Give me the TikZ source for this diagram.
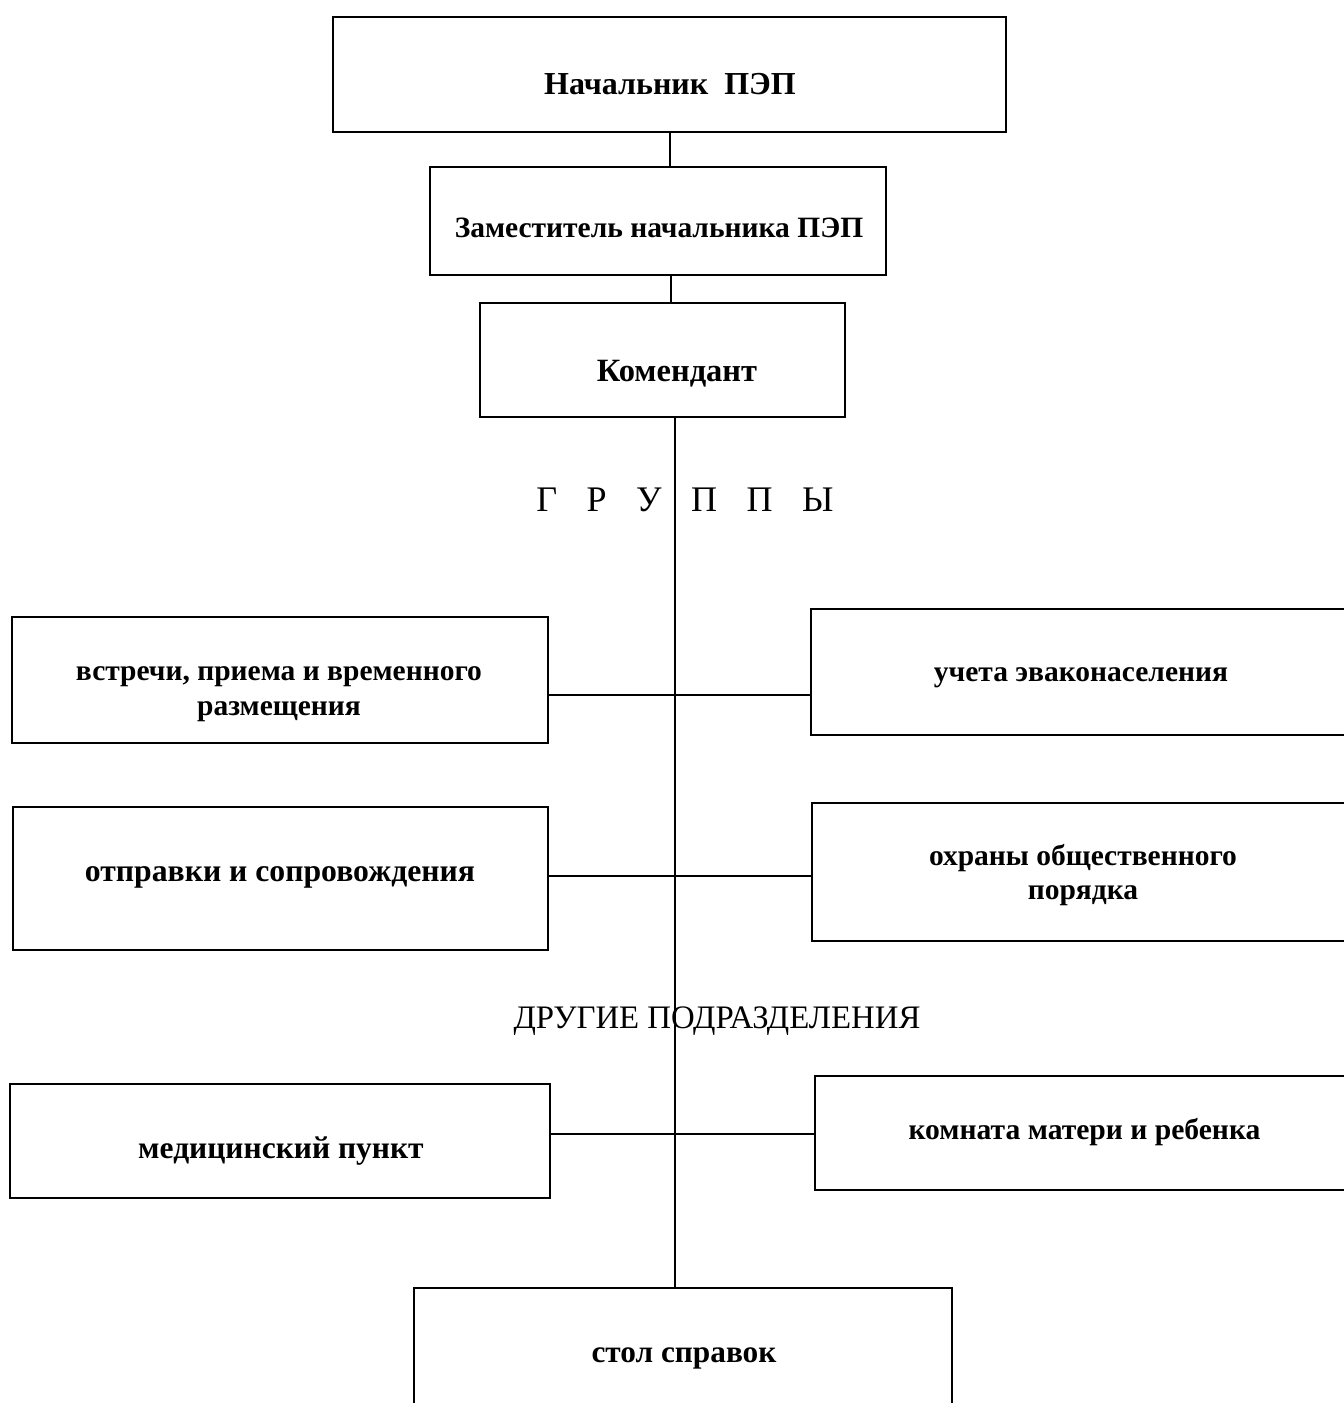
\documentclass[tikz,border=0pt]{standalone}
\usepackage{fontspec}
\setmainfont{Liberation Serif}
\begin{document}
\begin{tikzpicture}[x=1pt,y=-1pt,
  box/.style={draw=black, line width=2.6pt, rectangle, inner sep=0pt},
  lbl/.style={font=\fontsize{30}{35}\selectfont\bfseries, align=center, inner sep=0pt},
  head/.style={font=\fontsize{36}{40}\selectfont, inner sep=0pt},
  link/.style={draw=black, line width=2pt}]
\useasboundingbox (0,0) rectangle (1344,1403);
\clip (0,0) rectangle (1344,1403);
\fill[white] (0,0) rectangle (1344,1403);
% boxes
\node[box, minimum width=673pt, minimum height=115pt] (n1) at (669.5,74.5) {};
\node[box, minimum width=456pt, minimum height=108pt] (n2) at (658,221) {};
\node[box, minimum width=365pt, minimum height=114pt] (n3) at (662.5,360) {};
\node[box, minimum width=536pt, minimum height=126pt] (g1l) at (280,680) {};
\node[box, minimum width=549pt, minimum height=126pt] (g1r) at (1085.5,672) {};
\node[box, minimum width=535pt, minimum height=143pt] (g2l) at (280.5,878.5) {};
\node[box, minimum width=548pt, minimum height=138pt] (g2r) at (1086,872) {};
\node[box, minimum width=540pt, minimum height=114pt] (o1l) at (280,1141) {};
\node[box, minimum width=545pt, minimum height=114pt] (o1r) at (1087.5,1133) {};
\node[box, minimum width=538pt, minimum height=132pt] (desk) at (683,1354) {};
% texts
\node[lbl, font=\fontsize{32}{37}\selectfont\bfseries] (n1t) at (670,84) {Начальник\ \ ПЭП};
\node[lbl, font=\fontsize{29.5}{35}\selectfont\bfseries] (n2t) at (659,228) {Заместитель начальника ПЭП};
\node[lbl, font=\fontsize{32.5}{37}\selectfont\bfseries] (n3t) at (677,374) {Комендант};
\node[lbl, font=\fontsize{29.5}{35}\selectfont\bfseries] (g1lt) at (279,694) {встречи, приема и временного\\размещения};
\node[lbl, font=\fontsize{29.5}{35}\selectfont\bfseries] (g1rt) at (1081,678) {учета эваконаселения};
\node[lbl, font=\fontsize{31.7}{37}\selectfont\bfseries] (g2lt) at (280,877) {отправки и сопровождения};
\node[lbl, font=\fontsize{29.5}{34}\selectfont\bfseries] (g2rt) at (1083,875) {охраны общественного\\порядка};
\node[lbl, font=\fontsize{31.5}{37}\selectfont\bfseries] (o1lt) at (281,1151) {медицинский пункт};
\node[lbl, font=\fontsize{29.6}{35}\selectfont\bfseries] (o1rt) at (1084.5,1132) {комната матери и ребенка};
\node[lbl, font=\fontsize{31.3}{36}\selectfont\bfseries] (deskt) at (684,1358) {стол справок};
\node[head] (groups) at (685,500) {Г\hspace{0.82em}Р\hspace{0.82em}У\hspace{0.82em}П\hspace{0.82em}П\hspace{0.82em}Ы};
\node[head, font=\fontsize{32.8}{38}\selectfont] (other) at (717,1021) {ДРУГИЕ ПОДРАЗДЕЛЕНИЯ};
% connectors
\coordinate (c12) at (670,0);
\coordinate (c23) at (671,0);
\coordinate (trunk) at (675,0);
\coordinate (j1) at (675,695);
\coordinate (j2) at (675,876);
\coordinate (j3) at (675,1134);
\draw[link] (n1.south -| c12) -- (n2.north -| c12);
\draw[link] (n2.south -| c23) -- (n3.north -| c23);
\draw[link] (n3.south -| trunk) -- (desk.north -| trunk);
\draw[link] (j1 -| g1l.east) -- (j1 -| g1r.west);
\draw[link] (j2 -| g2l.east) -- (j2 -| g2r.west);
\draw[link] (j3 -| o1l.east) -- (j3 -| o1r.west);
\end{tikzpicture}
\end{document}
